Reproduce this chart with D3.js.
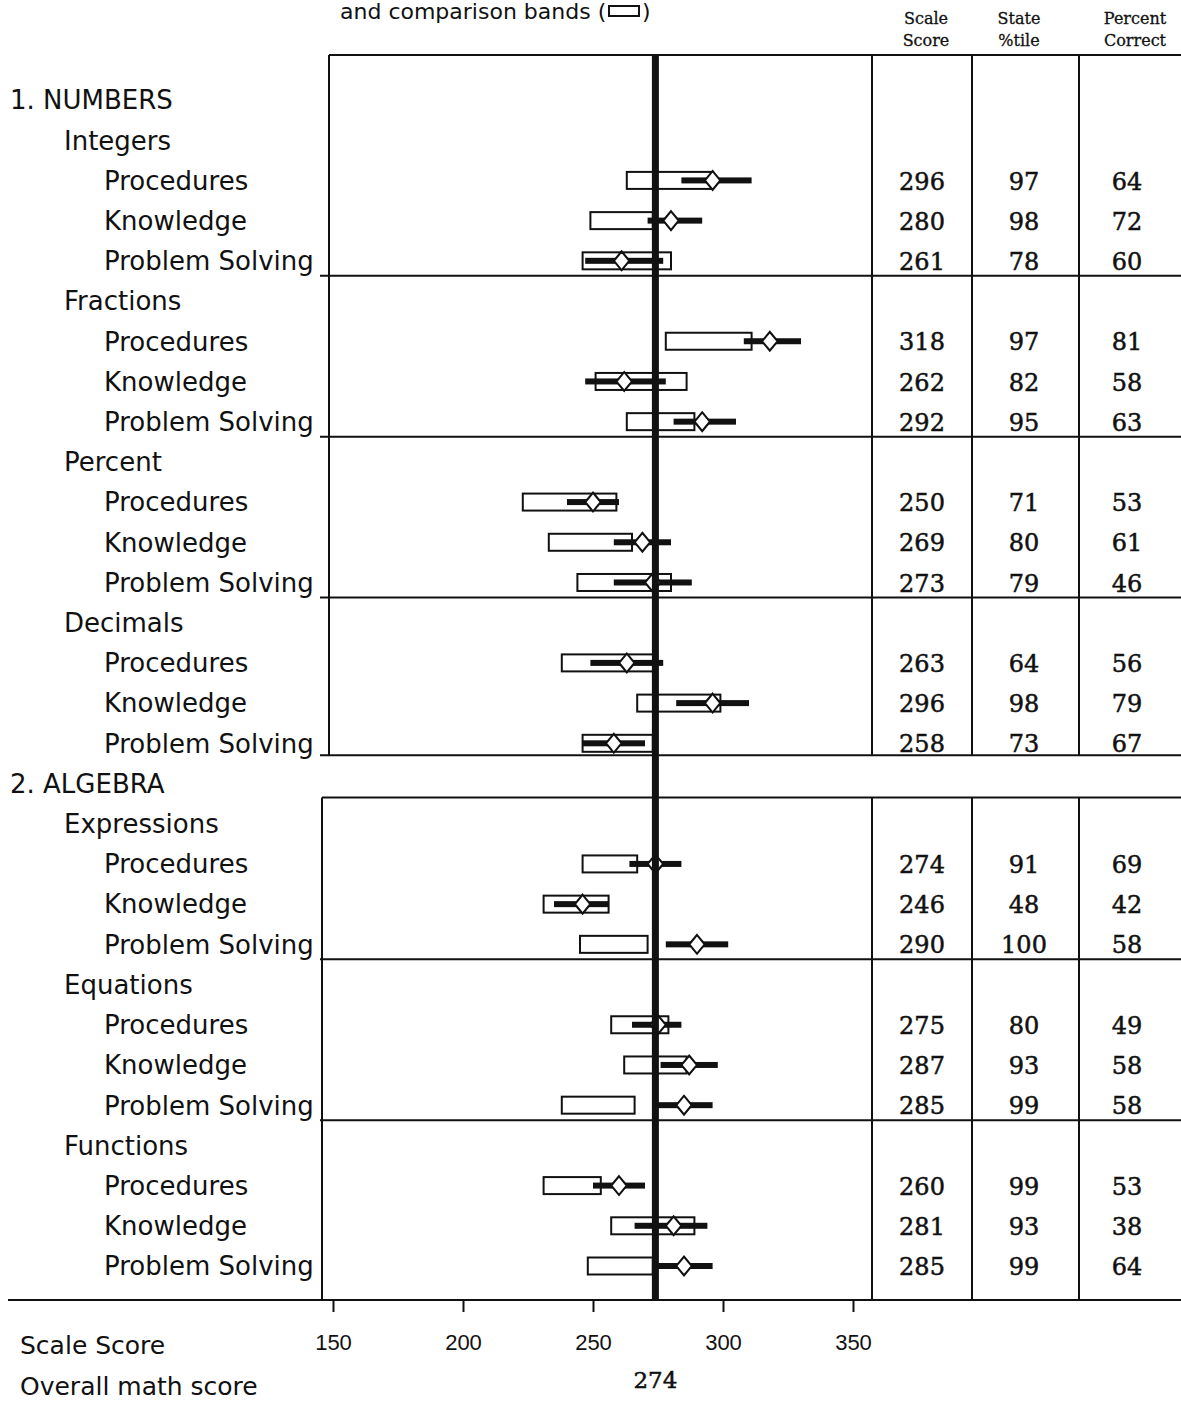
<!DOCTYPE html>
<html>
<head>
<meta charset="utf-8">
<script src="https://cdn.jsdelivr.net/npm/d3@7"></script>
<style>
  body { margin: 0; background: #fff; }
  .lab { font-family: 'DejaVu Sans', sans-serif; fill: #111; }
  .num { font-family: 'DejaVu Serif', serif; fill: #111; stroke: #111; stroke-width: 0.5px; }
</style>
</head>
<body>
<div class="d3-wrapper"></div>
<script>
// ---- data ----
const sections = ['1. NUMBERS', '2. ALGEBRA'];
const topics = ['Integers', 'Fractions', 'Percent', 'Decimals', 'Expressions', 'Equations', 'Functions'];
const topicSection = [0, 0, 0, 0, 1, 1, 1];
const skills = ['Procedures', 'Knowledge', 'Problem Solving'];

const scaleScore = [296, 280, 261, 318, 262, 292, 250, 269, 273, 263, 296, 258,
  274, 246, 290, 275, 287, 285, 260, 281, 285];
const statePctile = [97, 98, 78, 97, 82, 95, 71, 80, 79, 64, 98, 73,
  91, 48, 100, 80, 93, 99, 99, 93, 99];
const pctCorrect = [64, 72, 60, 81, 58, 63, 53, 61, 46, 56, 79, 67,
  69, 42, 58, 49, 58, 58, 53, 38, 64];
// comparison band (low, high)
const bandLow = [263, 249, 246, 278, 251, 263, 223, 233, 244, 238, 267, 246,
  246, 231, 245, 257, 262, 238, 231, 257, 248];
const bandHigh = [296, 273, 280, 311, 286, 289, 259, 265, 280, 274, 299, 273,
  267, 256, 271, 279, 286, 266, 253, 289, 273];
// score error bar (low, high)
const barLow = [284, 271, 247, 308, 247, 281, 240, 258, 258, 249, 282, 246,
  264, 235, 278, 265, 276, 275, 250, 266, 274];
const barHigh = [311, 292, 277, 330, 278, 305, 260, 280, 288, 277, 310, 270,
  284, 256, 302, 284, 298, 296, 270, 294, 296];

const overallScore = 274;
const axisTicks = [150, 200, 250, 300, 350];

const W = 1181, H = 1402;
const X0 = 333, X1 = 853;
const COL = [872, 972, 1079];

const svg = d3.select('.d3-wrapper').append('svg')
  .attr('width', W).attr('height', H);

const xScale = d3.scaleLinear().domain([150, 350]).range([X0, X1]);
const yLine = d3.scaleLinear().domain([0, 29]).range([100, 1266]);

// build line layout: section headers, topic headers, skill rows
const lines = [];
let k = 0, row = 0;
topics.forEach((t, ti) => {
  if (ti === 0 || topicSection[ti] !== topicSection[ti - 1]) {
    lines.push({ type: 'section', text: sections[topicSection[ti]], k: k++ });
  }
  lines.push({ type: 'topic', text: t, k: k++ });
  skills.forEach((s, si) => {
    lines.push({ type: 'skill', text: s, k: k++, i: row++, last: si === 2, topic: ti });
  });
});
const skillRows = lines.filter(d => d.type === 'skill');

// frame pieces
const numTop = yLine(0) - 45;
const numBottom = yLine(16) + 12;
const algTop = yLine(17) + 14;
const axisY = yLine(29) + 34;

const frame = svg.append('g').attr('stroke', '#111').attr('stroke-width', 2).attr('fill', 'none');
frame.append('line').attr('x1', 329).attr('x2', W).attr('y1', numTop).attr('y2', numTop);
frame.append('line').attr('x1', 329).attr('x2', 329).attr('y1', numTop).attr('y2', numBottom);
frame.append('line').attr('x1', 322).attr('x2', W).attr('y1', algTop).attr('y2', algTop);
frame.append('line').attr('x1', 322).attr('x2', 322).attr('y1', algTop).attr('y2', axisY);
COL.forEach(c => {
  frame.append('line').attr('x1', c).attr('x2', c).attr('y1', numTop).attr('y2', numBottom);
  frame.append('line').attr('x1', c).attr('x2', c).attr('y1', algTop).attr('y2', axisY);
});
// separators under each topic group (the last group sits on the axis line)
skillRows.filter(d => d.last && d.topic < topics.length - 1).forEach(d => {
  const y = yLine(d.k) + (d.topic === 3 ? 12 : 15);
  frame.append('line').attr('x1', 320).attr('x2', W).attr('y1', y).attr('y2', y);
});
// bottom axis line
frame.append('line').attr('x1', 8).attr('x2', W).attr('y1', axisY).attr('y2', axisY);

// left labels
const indent = { section: 10, topic: 64, skill: 104 };
svg.append('g').selectAll('text')
  .data(lines)
  .enter().append('text')
  .attr('class', 'lab')
  .attr('x', d => indent[d.type])
  .attr('y', d => yLine(d.k))
  .attr('dy', '0.36em')
  .style('font-size', '26px')
  .text(d => d.text);

// comparison bands
const marks = svg.append('g');
marks.selectAll('.band')
  .data(skillRows)
  .enter().append('rect')
  .attr('class', 'band')
  .attr('x', d => xScale(bandLow[d.i]))
  .attr('width', d => xScale(bandHigh[d.i]) - xScale(bandLow[d.i]))
  .attr('y', d => yLine(d.k) - 8.5)
  .attr('height', 17)
  .attr('fill', '#fff')
  .attr('stroke', '#111')
  .attr('stroke-width', 2);

// score bars
marks.selectAll('.bar')
  .data(skillRows)
  .enter().append('rect')
  .attr('class', 'bar')
  .attr('x', d => xScale(barLow[d.i]))
  .attr('width', d => xScale(barHigh[d.i]) - xScale(barLow[d.i]))
  .attr('y', d => yLine(d.k) - 3)
  .attr('height', 6)
  .attr('fill', '#111');

// diamonds
marks.selectAll('.dia')
  .data(skillRows)
  .enter().append('path')
  .attr('class', 'dia')
  .attr('d', d3.symbol(d3.symbolDiamond2, 170))
  .attr('transform', d => `translate(${xScale(scaleScore[d.i])},${yLine(d.k)}) scale(0.95,1.15)`)
  .attr('fill', '#fff')
  .attr('stroke', '#111')
  .attr('stroke-width', 2);

// overall score line
svg.append('line')
  .attr('x1', xScale(overallScore)).attr('x2', xScale(overallScore))
  .attr('y1', numTop).attr('y2', axisY)
  .attr('stroke', '#111').attr('stroke-width', 7);

// table values
const colCenters = [922, 1024, 1127];
const cols = [scaleScore, statePctile, pctCorrect];
cols.forEach((arr, ci) => {
  svg.append('g').selectAll('text')
    .data(skillRows)
    .enter().append('text')
    .attr('class', 'num')
    .attr('x', colCenters[ci])
    .attr('y', d => yLine(d.k))
    .attr('dy', '0.38em')
    .attr('text-anchor', 'middle')
    .style('font-size', '24px')
    .text(d => arr[d.i]);
});

// column headers
const headers = [['Scale', 'Score'], ['State', '%tile'], ['Percent', 'Correct']];
const headerX = [926, 1019, 1135];
headers.forEach((h, hi) => {
  h.forEach((t, ti) => {
    svg.append('text')
      .attr('class', 'num')
      .attr('x', headerX[hi])
      .attr('y', 24 + ti * 22)
      .attr('text-anchor', 'middle')
      .style('font-size', '16px')
      .style('stroke-width', '0.3px')
      .text(t);
  });
});

// legend text at the very top
svg.append('text')
  .attr('class', 'lab')
  .attr('x', 340)
  .attr('y', 19)
  .style('font-size', '22px')
  .text('and comparison bands (');
svg.append('rect')
  .attr('x', 609).attr('y', 6).attr('width', 30).attr('height', 10)
  .attr('fill', 'none').attr('stroke', '#111').attr('stroke-width', 2);
svg.append('text')
  .attr('class', 'lab')
  .attr('x', 642)
  .attr('y', 19)
  .style('font-size', '22px')
  .text(')');

// scale axis
const xAxis = d3.axisBottom(xScale).tickValues(axisTicks).tickSize(12).tickPadding(22);
const axisG = svg.append('g')
  .attr('transform', `translate(0,${axisY})`)
  .call(xAxis);
axisG.select('.domain').remove();
axisG.selectAll('.tick line').attr('stroke', '#111').attr('stroke-width', 2);
axisG.selectAll('.tick text')
  .attr('fill', '#111')
  .style('font-family', "'Liberation Sans Narrow', 'Liberation Sans', sans-serif")
  .style('font-size', '22px');

svg.append('text')
  .attr('class', 'lab')
  .attr('x', 20).attr('y', axisY + 45)
  .attr('dy', '0.36em')
  .style('font-size', '25px')
  .text('Scale Score');
svg.append('text')
  .attr('class', 'lab')
  .attr('x', 20).attr('y', axisY + 86)
  .attr('dy', '0.36em')
  .style('font-size', '25px')
  .text('Overall math score');
svg.append('text')
  .attr('class', 'num')
  .attr('x', xScale(overallScore)).attr('y', axisY + 80)
  .attr('dy', '0.36em')
  .attr('text-anchor', 'middle')
  .style('font-size', '23px')
  .text(overallScore);
</script>
</body>
</html>
